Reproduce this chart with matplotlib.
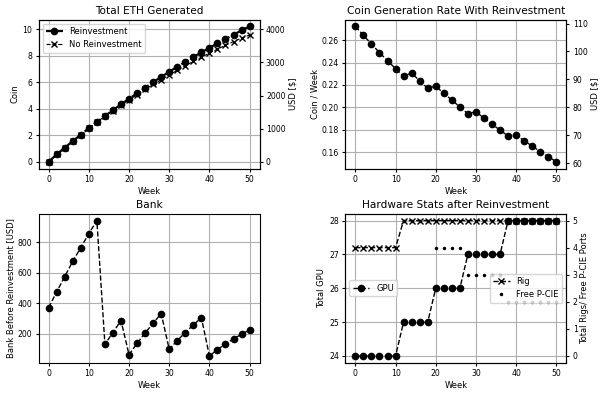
import matplotlib
matplotlib.use('Agg')
import matplotlib.pyplot as plt

weeks = list(range(0, 51, 2))

eth_reinvest = [0.0, 0.55, 1.06, 1.56, 2.04, 2.54, 3.0, 3.45, 3.9, 4.33, 4.76, 5.17,
                5.59, 6.02, 6.4, 6.8, 7.18, 7.54, 7.91, 8.26, 8.61, 8.94, 9.27, 9.6,
                9.92, 10.23]
eth_no_reinvest = [0.0, 0.55, 1.06, 1.56, 2.04, 2.54, 3.0, 3.43, 3.86, 4.27, 4.68, 5.07,
                   5.46, 5.84, 6.2, 6.56, 6.91, 7.25, 7.58, 7.9, 8.21, 8.51, 8.8, 9.08,
                   9.34, 9.58]
rate_reinvest = [0.2725, 0.2645, 0.2567, 0.249, 0.2418, 0.2346, 0.2278, 0.2308, 0.2236,
                 0.217, 0.219, 0.2125, 0.2066, 0.2003, 0.1943, 0.196, 0.1904, 0.1848,
                 0.1797, 0.1743, 0.1752, 0.170, 0.1654, 0.1603, 0.1558, 0.1513]
bank_usd = [371, 474, 575, 675, 765, 857, 943, 130, 207, 286, 61, 136, 204, 268, 332,
            97, 154, 207, 257, 305, 53, 95, 132, 165, 196, 224]
gpu_count = [24] * 6 + [25] * 4 + [26] * 4 + [27] * 5 + [28] * 7
rig_count = [4] * 6 + [5] * 20
free_pcie = [0] * 6 + [5] * 4 + [4] * 4 + [3] * 5 + [2] * 7
eth_price = 400

plt.rcParams.update({
    'font.size': 6.0,
    'axes.titlesize': 7.6,
    'axes.labelsize': 6.0,
    'axes.labelpad': 2.0,
    'xtick.labelsize': 5.6,
    'ytick.labelsize': 5.6,
    'xtick.major.size': 2.5,
    'ytick.major.size': 2.5,
    'xtick.major.pad': 2.0,
    'ytick.major.pad': 2.0,
    'legend.fontsize': 6.0,
    'axes.titlepad': 4.0,
})

fig = plt.figure(figsize=(6.04, 3.94), dpi=100)
W, H = 0.366, 0.378
ax1 = fig.add_axes([0.0639, 0.5723, W, H])
ax2 = fig.add_axes([0.5717, 0.5723, W, H])
ax3 = fig.add_axes([0.0639, 0.0794, W, H])
ax4 = fig.add_axes([0.5717, 0.0794, W, H])

# total ETH
ax1.plot(weeks, eth_reinvest, 'k--o', linewidth=1.6, markersize=4.5, label='Reinvestment')
ax1.plot(weeks, eth_no_reinvest, 'k--x', linewidth=0.8, markersize=4, label='No Reinvestment')
ax1.set_title('Total ETH Generated')
ax1.set_xlabel('Week')
ax1.set_ylabel('Coin')
ax1.grid(True)
ax1.legend(loc='upper left')
ax1b = ax1.twinx()
lo, hi = ax1.get_ylim()
ax1b.set_ylim(lo * eth_price, hi * eth_price)
ax1b.set_ylabel('USD [$]')

# coin rate
ax2.plot(weeks, rate_reinvest, 'k--o', linewidth=1.0, markersize=4.5)
ax2.set_title('Coin Generation Rate With Reinvestment')
ax2.set_xlabel('Week')
ax2.set_ylabel('Coin / Week')
ax2.grid(True)
ax2b = ax2.twinx()
lo, hi = ax2.get_ylim()
ax2b.set_ylim(lo * eth_price, hi * eth_price)
ax2b.set_ylabel('USD [$]')

# bank
ax3.plot(weeks, bank_usd, 'k--o', linewidth=1.0, markersize=4.5)
ax3.set_title('Bank')
ax3.set_xlabel('Week')
ax3.set_ylabel('Bank Before Reinvestment [USD]')
ax3.grid(True)

# hardware
ax4.plot(weeks, gpu_count, 'k--o', linewidth=1.0, markersize=4.5, label='GPU')
ax4.set_title('Hardware Stats after Reinvestment')
ax4.set_xlabel('Week')
ax4.set_ylabel('Total GPU')
ax4.set_yticks([24, 25, 26, 27, 28])
ax4.grid(True)
ax4.legend(loc='center left')
ax4b = ax4.twinx()
ax4b.plot(weeks, rig_count, 'k--x', linewidth=1.0, markersize=4, label='Rig')
ax4b.plot(weeks, free_pcie, 'k.', markersize=3, label='Free P-CIE')
ax4b.set_ylabel('Total Rigs/ Free P-CIE Ports')
ax4b.legend(loc='center right')

plt.savefig('out.png', dpi=100)
